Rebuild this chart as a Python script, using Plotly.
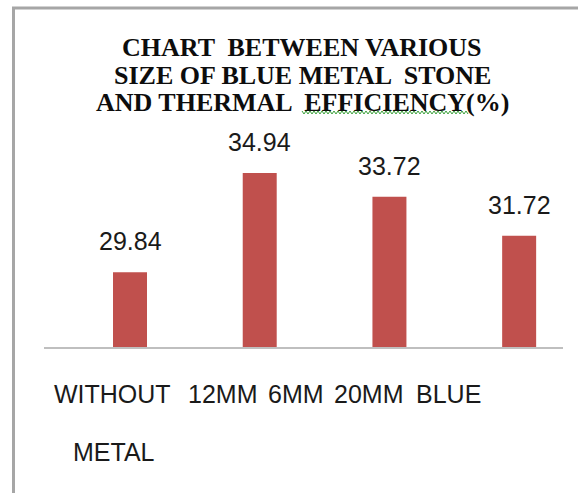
import plotly.graph_objects as go

# ---- data -------------------------------------------------------------
categories = ["WITHOUT METAL", "12MM", "6MM", "20MM BLUE METAL"]
efficiency = [29.84, 34.94, 33.72, 31.72]

title_lines = [
    "CHART  BETWEEN VARIOUS",
    "SIZE OF BLUE METAL  STONE",
    "AND THERMAL  EFFICIENCY(%)",
]
axis_label_row1 = ["WITHOUT", "12MM", "6MM", "20MM", "BLUE"]
axis_label_row2 = ["METAL"]

# ---- layout geometry (pixels) ----------------------------------------
W, H = 578, 493
L, R, T, B = 44, 563, 133, 347
Y_MIN, Y_MAX = 26, 37


def px(x):
    return (x - L) / (R - L)


def py(y):
    return (B - y) / (B - T)


BAR_COLOR = "#c0504d"
SERIF = "Liberation Serif, Times New Roman, serif"
SANS = "Liberation Sans, Arial, sans-serif"

fig = go.Figure(
    go.Bar(
        x=categories,
        y=efficiency,
        marker=dict(color=BAR_COLOR, line=dict(width=0)),
        hoverinfo="x+y",
    )
)

annotations = []

# value labels above the bars
for cat, val in zip(categories, efficiency):
    annotations.append(dict(
        x=cat, y=val, xref="x", yref="y",
        text=f"{val:.2f}", showarrow=False,
        yanchor="middle", xanchor="center", yshift=31,
        font=dict(family=SANS, size=25, color="#1a1a1a"),
    ))

# title, one line per annotation
for text, yc in zip(title_lines, [47, 75, 102]):
    annotations.append(dict(
        x=px(302), y=py(yc), xref="paper", yref="paper",
        text=f"<b>{text}</b>", showarrow=False,
        xanchor="center", yanchor="middle",
        font=dict(family=SERIF, size=26, color="#0d0d0d"),
    ))

# category text under the axis
for text, xl in zip(axis_label_row1, [52, 186, 266, 332, 414]):
    annotations.append(dict(
        x=px(xl), y=py(394), xref="paper", yref="paper",
        text=text, showarrow=False, xanchor="left", yanchor="middle",
        font=dict(family=SANS, size=25, color="#1a1a1a"),
    ))
for text, xl in zip(axis_label_row2, [71]):
    annotations.append(dict(
        x=px(xl), y=py(452), xref="paper", yref="paper",
        text=text, showarrow=False, xanchor="left", yanchor="middle",
        font=dict(family=SANS, size=25, color="#1a1a1a"),
    ))

# frame of the chart area (left and top edges)
shapes = [
    dict(type="line", xref="paper", yref="paper",
         x0=px(13.5), x1=px(13.5), y0=py(7), y1=py(H + 5),
         line=dict(color="#a6a6a6", width=3)),
    dict(type="line", xref="paper", yref="paper",
         x0=px(12), x1=px(W + 5), y0=py(8), y1=py(8),
         line=dict(color="#a6a6a6", width=3)),
]

# wavy underline beneath "EFFICIENCY"
x_start, x_end, y_mid = 302, 468, 112.5
pts = []
x = x_start
k = 0
while x <= x_end:
    pts.append((x, y_mid + (1.5 if k % 2 else -1.5)))
    x += 2
    k += 1
path = "M " + " L ".join(f"{px(a):.5f},{py(b):.5f}" for a, b in pts)
shapes.append(dict(type="path", xref="paper", yref="paper", path=path,
                   line=dict(color="#3aa03a", width=1)))

fig.update_layout(
    width=W, height=H,
    margin=dict(l=L, r=W - R, t=T, b=H - B, pad=0),
    paper_bgcolor="white", plot_bgcolor="white",
    showlegend=False,
    bargap=0.738,
    annotations=annotations,
    shapes=shapes,
    xaxis=dict(
        type="category", range=[-0.663, 3.338],
        showticklabels=False, ticks="", showgrid=False, zeroline=False,
        showline=True, linecolor="#bfbfbf", linewidth=2,
        fixedrange=True,
    ),
    yaxis=dict(
        range=[Y_MIN, Y_MAX], visible=False, showgrid=False,
        zeroline=False, fixedrange=True,
    ),
)

fig.write_html("out.html", config={"displayModeBar": False})
